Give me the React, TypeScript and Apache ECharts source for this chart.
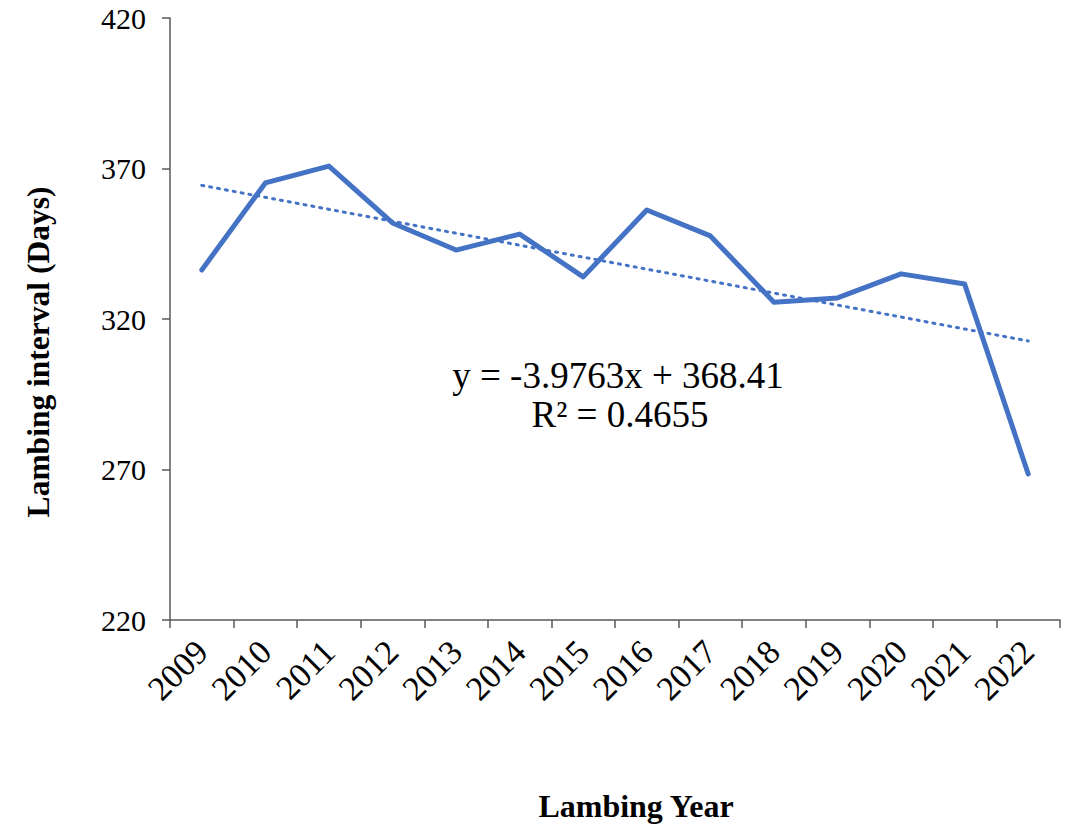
import React, { useEffect, useRef } from "react";
import * as echarts from "echarts";

const years = ["2009", "2010", "2011", "2012", "2013", "2014", "2015", "2016", "2017", "2018", "2019", "2020", "2021", "2022"];
const lambingInterval = [336.3, 365.2, 370.8, 351.9, 342.9, 348.2, 334.0, 356.2, 347.6, 325.6, 327.0, 335.0, 331.6, 268.5];
const trendLine = [364.4, null, null, null, null, null, null, null, null, null, null, null, null, 312.7];
const yTicks = { min: 220, max: 420, interval: 50 };
const equationText = "y = -3.9763x + 368.41";
const r2Text = "R² = 0.4655";

const FONT = "'Liberation Serif', 'Times New Roman', serif";
const BLUE = "#4472C4";
const AXIS = "#595959";

export default function App() {
  const ref = useRef<HTMLDivElement>(null);
  useEffect(() => {
    if (!ref.current) return;
    const chart = echarts.init(ref.current, null, { renderer: "svg" });
    chart.setOption({
      animation: false,
      backgroundColor: "#fff",
      grid: { left: 170, right: 9, top: 18, bottom: 208, containLabel: false },
      xAxis: {
        type: "category",
        data: years,
        boundaryGap: true,
        axisLine: { lineStyle: { color: AXIS, width: 1.5 } },
        axisTick: { show: true, length: 8, alignWithLabel: false, lineStyle: { color: AXIS, width: 1.5 } },
        axisLabel: { rotate: 45, margin: 26, fontFamily: FONT, fontSize: 34, color: "#000", interval: 0 },
        splitLine: { show: false },
      },
      yAxis: {
        type: "value",
        min: yTicks.min,
        max: yTicks.max,
        interval: yTicks.interval,
        axisLine: { show: true, lineStyle: { color: AXIS, width: 1.5 } },
        axisTick: { show: true, length: 8, lineStyle: { color: AXIS, width: 1.5 } },
        axisLabel: { margin: 24, fontFamily: FONT, fontSize: 30, color: "#000" },
        splitLine: { show: false },
      },
      series: [
        {
          type: "line",
          data: lambingInterval,
          symbol: "none",
          lineStyle: { color: BLUE, width: 5, cap: "round", join: "round" },
          z: 3,
        },
        {
          type: "line",
          data: trendLine,
          connectNulls: true,
          symbol: "none",
          lineStyle: { color: BLUE, width: 3, type: [2, 6], cap: "round" },
          z: 2,
        },
      ],
      graphic: [
        {
          type: "text",
          x: 618,
          y: 375,
          style: { text: equationText, fontFamily: FONT, fontSize: 37, fill: "#000", align: "center", verticalAlign: "middle" },
        },
        {
          type: "text",
          x: 620,
          y: 414,
          style: { text: r2Text, fontFamily: FONT, fontSize: 37, fill: "#000", align: "center", verticalAlign: "middle" },
        },
        {
          type: "text",
          x: 636,
          y: 806,
          style: { text: "Lambing Year", fontFamily: FONT, fontSize: 32, fontWeight: "bold", fill: "#000", align: "center", verticalAlign: "middle" },
        },
        {
          type: "text",
          x: 38,
          y: 352,
          rotation: Math.PI / 2,
          style: { text: "Lambing interval (Days)", fontFamily: FONT, fontSize: 31.5, fontWeight: "bold", fill: "#000", align: "center", verticalAlign: "middle" },
        },
      ],
    });
    return () => chart.dispose();
  }, []);
  return <div ref={ref} style={{ position: "fixed", left: 0, top: 0, width: 1069, height: 828 }} />;
}
